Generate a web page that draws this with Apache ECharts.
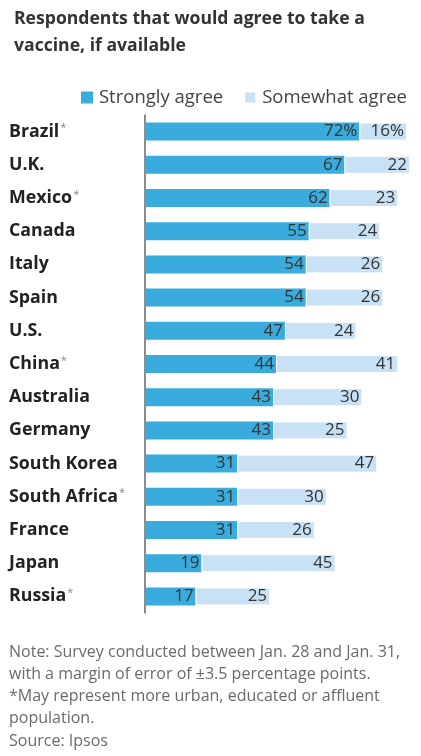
<!DOCTYPE html>
<html><head><meta charset="utf-8">
<script src="https://cdn.jsdelivr.net/npm/echarts@6/dist/echarts.min.js"></script>
<style>html,body{margin:0;padding:0;background:#fff}#c{width:421px;height:756px}</style>
</head><body><div id="c"></div>
<script>
const countries = ['Brazil','U.K.','Mexico','Canada','Italy','Spain','U.S.','China','Australia','Germany','South Korea','South Africa','France','Japan','Russia'];
const starred = ['Brazil','Mexico','China','South Africa','Russia'];
const strongly = [72,67,62,55,54,54,47,44,43,43,31,31,31,19,17];
const somewhat = [16,22,23,24,26,26,24,41,30,25,47,30,26,45,25];
const noteLines = [
  'Note: Survey conducted between Jan. 28 and Jan. 31,',
  'with a margin of error of \u00b13.5 percentage points.',
  '*May represent more urban, educated or affluent',
  'population.',
  'Source: Ipsos'
];
const FONT = '"Open Sans", sans-serif';
const chart = echarts.init(document.getElementById('c'));
chart.setOption({
  animation: false,
  textStyle: {fontFamily: FONT},
  title: {
    text: 'Respondents that would agree to take a\nvaccine, if available',
    left: 9, top: 0,
    textStyle: {fontSize: 17.6, fontWeight: 'bold', color: '#333', lineHeight: 27, fontFamily: FONT}
  },
  legend: {
    right: 9, top: 83, itemWidth: 12, itemHeight: 12, itemGap: 20,
    icon: 'rect',
    textStyle: {fontSize: 18.5, color: '#444', fontFamily: FONT, padding: [0,0,0,1]},
    data: ['Strongly agree','Somewhat agree']
  },
  grid: {left: 145, right: 8, top: 115, bottom: 143},
  xAxis: {type: 'value', min: 0, max: 90, show: false},
  yAxis: {
    type: 'category', data: countries, inverse: true,
    axisLine: {show: true, lineStyle: {color: '#666', width: 1.5}},
    axisTick: {show: false},
    axisLabel: {
      align: 'left', margin: 136,
      formatter: v => starred.includes(v) ? '{n|' + v + '}{s|*}' : '{n|' + v + '}',
      rich: {
        n: {fontSize: 17.8, fontWeight: 'bold', color: '#222', fontFamily: FONT},
        s: {fontSize: 11, color: '#888', verticalAlign: 'top', padding: [0,0,6,1], fontFamily: FONT}
      }
    }
  },
  series: [
    {
      name: 'Strongly agree', type: 'bar', stack: 'a', barWidth: 18,
      itemStyle: {color: '#39acdd'},
      label: {show: true, position: 'insideRight', distance: 2, fontSize: 17, color: '#333', fontFamily: FONT,
        formatter: p => p.dataIndex === 0 ? p.value + '%' : p.value},
      data: strongly
    },
    {
      name: 'Somewhat agree', type: 'bar', stack: 'a', barWidth: 18,
      itemStyle: {color: '#c8e1f4', borderColor: '#fff', borderWidth: 1},
      label: {show: true, position: 'insideRight', distance: 3, fontSize: 17, color: '#333', fontFamily: FONT,
        formatter: p => p.dataIndex === 0 ? p.value + '%' : p.value},
      data: somewhat
    }
  ],
  graphic: noteLines.map((t, i) => ({
    type: 'text', left: 9, top: 644 + i * 22.3,
    style: {text: t, fontSize: 16, fill: '#6a6a6a', fontFamily: FONT}
  }))
});
</script></body></html>
